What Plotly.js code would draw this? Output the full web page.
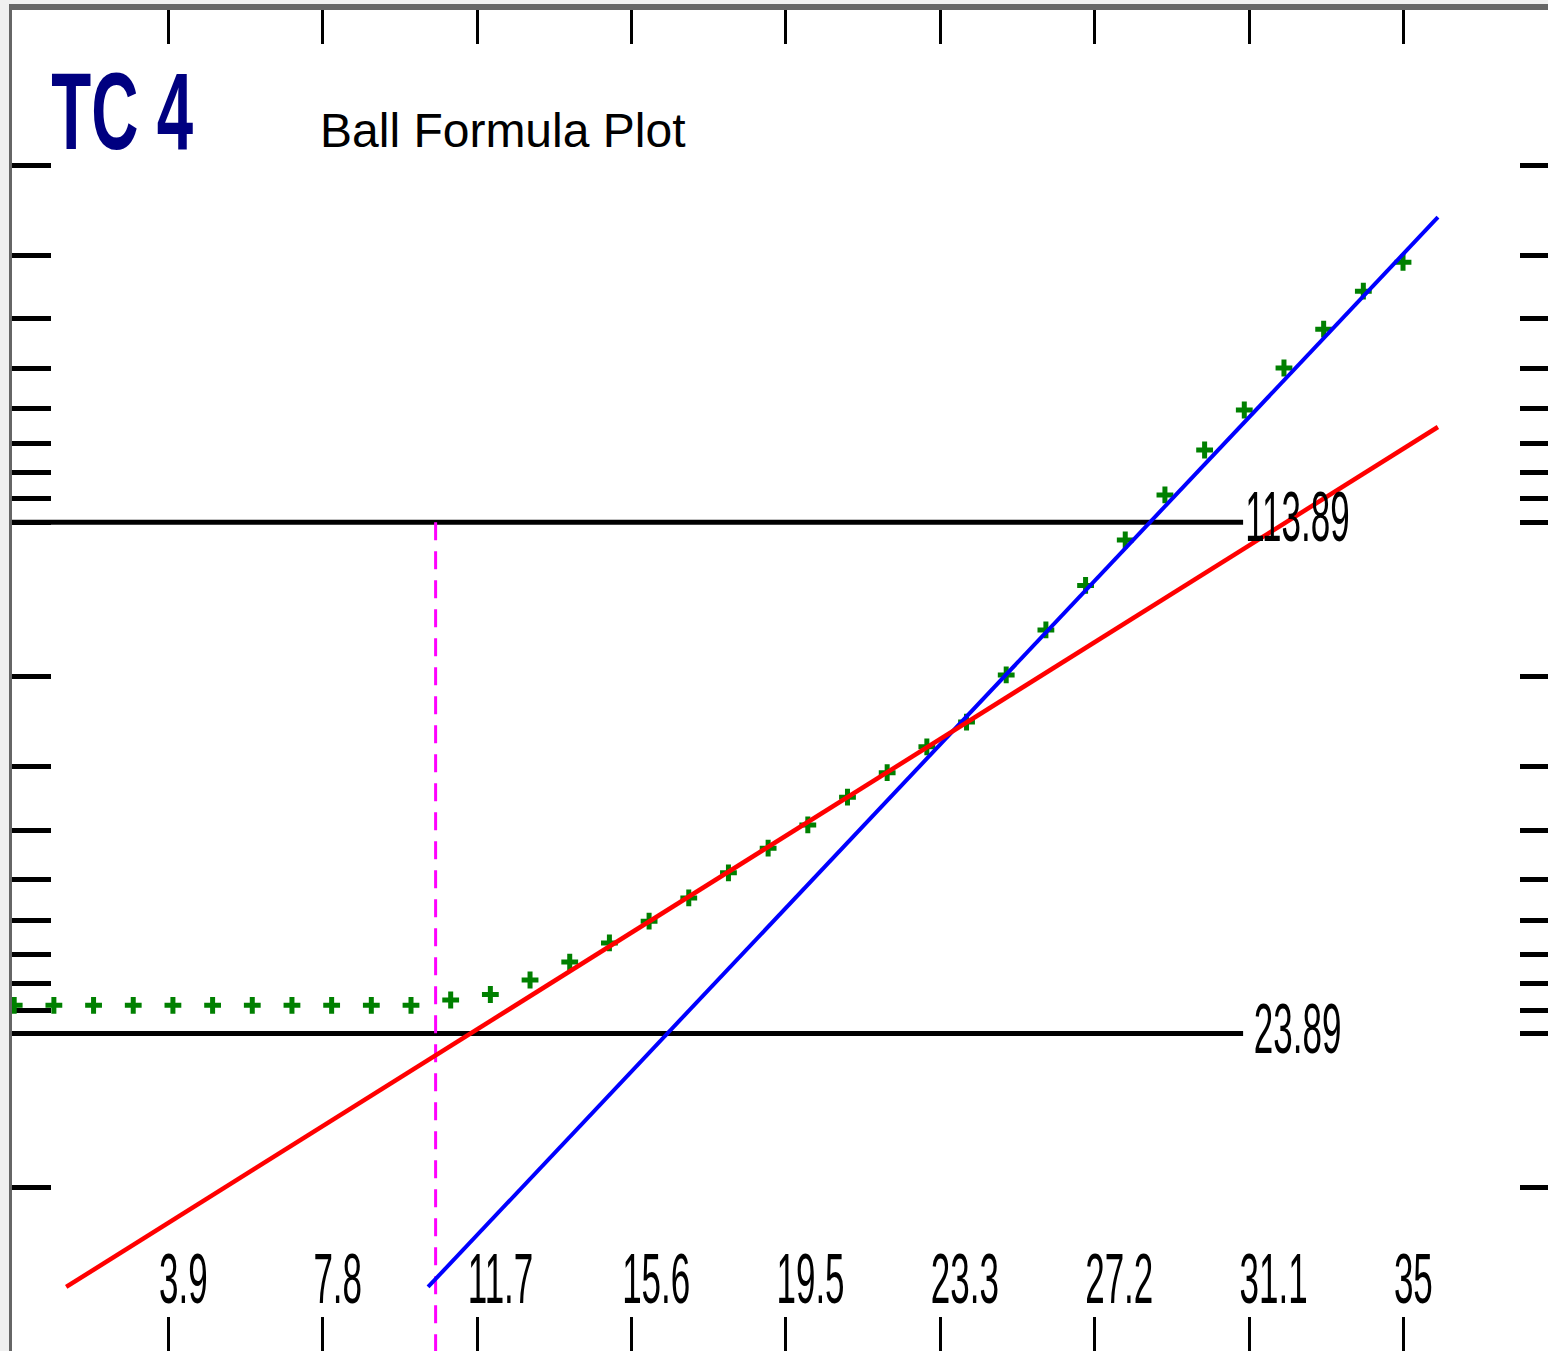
<!DOCTYPE html>
<html>
<head>
<meta charset="utf-8">
<script src="https://cdn.plot.ly/plotly-3.0.1.min.js"></script>
<style>
html, body { margin: 0; padding: 0; background: #f0f0f0; overflow: hidden; width: 1548px; height: 1351px; }
#frame { position: absolute; left: 9px; top: 4px; border-left: 3px solid #666666; border-top: 6px solid #666666; background: #ffffff; width: 1547px; height: 1341px; }
#chart { width: 1547px; height: 1341px; }
</style>
</head>
<body>
<div id="frame"><div id="chart"></div></div>
<script>
// ---- data ----
const chartTitle = 'TC 4';
const chartSubtitle = 'Ball Formula Plot';
const retortTemp = 123.89;                     // °C
const timeMin = [0,1,2,3,4,5,6,7,8,9,10,11,12,13,14,15,16,17,18,19,20,21,22,23,24,25,26,27,28,29,30,31,32,33,34,35];
const tempC = [35.8,35.8,35.8,35.8,35.8,35.8,35.8,35.8,35.8,35.8,35.8,
               37.9,40.0,45.3,51.4,57.4,63.6,69.6,75.4,80.5,84.8,89.4,93.0,96.4,99.3,
               104.0,107.65,110.6,113.06,115.05,116.67,117.86,118.9,119.7,120.36,120.79];
const refTemps = [113.89, 23.89];              // horizontal reference temperatures
const refLineTime = [-1, 30.97];
const heat1Time = [1.31, 35.88];               // red fitted line (retort temp - temp)
const heat1Diff = [313.2, 6.51];
const heat2Time = [10.43, 35.88];              // blue fitted line (retort temp - temp)
const heat2Diff = [313.2, 2.53];
const lagTime = 10.62;                         // magenta dashed marker line
const lagDiff = [10, 1000];
const xTickVals = [3.89, 7.78, 11.67, 15.56, 19.45, 23.34, 27.23, 31.12, 35.01];
const xTickText = ['3.9','7.8','11.7','15.6','19.5','23.3','27.2','31.1','35'];
const yTickDiffs = [2,3,4,5,6,7,8,9,10,20,30,40,50,60,70,80,90,100,200,300,400];

// ---- chart ----
const diffs = tempC.map(t => retortTemp - t);
const numFont = { family: 'Liberation Sans, Arial, sans-serif', size: 70, color: '#000000' };

const traces = [
  { type: 'scatter', mode: 'markers', x: timeMin, y: diffs, hoverinfo: 'skip',
    marker: { symbol: 'cross-thin', size: 12, color: '#008000', line: { color: '#008000', width: 5 } } }
];
refTemps.forEach(t => traces.push({ type: 'scatter', mode: 'lines', x: refLineTime, y: [retortTemp - t, retortTemp - t],
  line: { color: '#000000', width: 5 }, hoverinfo: 'skip' }));
traces.push({ type: 'scatter', mode: 'lines', x: [lagTime, lagTime], y: lagDiff,
  line: { color: '#ff00ff', width: 3, dash: '18px,11px' }, hoverinfo: 'skip' });
traces.push({ type: 'scatter', mode: 'lines', x: heat2Time, y: heat2Diff,
  line: { color: '#0000ff', width: 4 }, hoverinfo: 'skip' });
traces.push({ type: 'scatter', mode: 'lines', x: heat1Time, y: heat1Diff,
  line: { color: '#ff0000', width: 4.5 }, hoverinfo: 'skip' });

const W = 1547, H = 1341;
const px = v => (v - 12) / W;          // page x -> paper
const py = v => 1 - (v - 10) / H;      // page y -> paper

const annotations = [];
const squeezeX = [];
refTemps.forEach(t => {
  annotations.push({ text: t.toFixed(2), xref: 'x', yref: 'y', x: 32.34, y: Math.log10(retortTemp - t),
    yshift: 5, xanchor: 'center', yanchor: 'middle', showarrow: false, font: numFont });
  squeezeX.push(0.5);
});
annotations.push({ text: chartTitle, xref: 'paper', yref: 'paper', x: px(122), y: py(111),
  xanchor: 'center', yanchor: 'middle', showarrow: false,
  font: { family: 'Liberation Sans, Arial, sans-serif', size: 109, color: '#000080', weight: 700 } });
squeezeX.push(0.6);
annotations.push({ text: chartSubtitle, xref: 'paper', yref: 'paper', x: px(502), y: py(131),
  xanchor: 'center', yanchor: 'middle', showarrow: false,
  font: { family: 'Liberation Sans, Arial, sans-serif', size: 48, color: '#000000' } });
squeezeX.push(1);

const layout = {
  width: W, height: H,
  margin: { l: 0, r: 0, t: 0, b: 0, pad: 0 },
  paper_bgcolor: '#ffffff', plot_bgcolor: '#ffffff',
  showlegend: false,
  xaxis: {
    range: [-0.0554, 38.931], showgrid: false, zeroline: false, showline: false,
    ticks: 'inside', ticklen: 34, tickwidth: 3, tickcolor: '#000000', mirror: 'ticks',
    tickmode: 'array', tickvals: xTickVals, ticktext: xTickText,
    ticklabelposition: 'inside right', ticklabelshift: -11, ticklabelstandoff: 28,
    tickfont: numFont, layer: 'below traces', automargin: false
  },
  yaxis: {
    type: 'log', range: [2.6211, -0.0022], showgrid: false, zeroline: false, showline: false,
    ticks: 'inside', ticklen: 39, tickwidth: 5, tickcolor: '#000000', mirror: 'ticks',
    tickmode: 'array', tickvals: yTickDiffs, showticklabels: false,
    layer: 'below traces', automargin: false
  },
  annotations: annotations
};

// horizontally condense a text element about its centre (or its left edge)
function squeeze(el, sx, fromLeft) {
  const bb = el.getBBox();
  const cx = fromLeft ? bb.x : bb.x + bb.width / 2;
  const t = el.getAttribute('transform') || '';
  el.setAttribute('transform', t + ' translate(' + cx + ',0) scale(' + sx + ',1) translate(' + (-cx) + ',0)');
}

Plotly.newPlot('chart', traces, layout, { staticPlot: true, displayModeBar: false }).then(gd => {
  gd.querySelectorAll('.xtick text').forEach(el => squeeze(el, 0.5, true));
  gd.querySelectorAll('g.annotation').forEach(g => {
    const i = +g.getAttribute('data-index');
    const el = g.querySelector('text.annotation-text');
    if (el && squeezeX[i] !== 1) squeeze(el, squeezeX[i], false);
  });
});
</script>
</body>
</html>
